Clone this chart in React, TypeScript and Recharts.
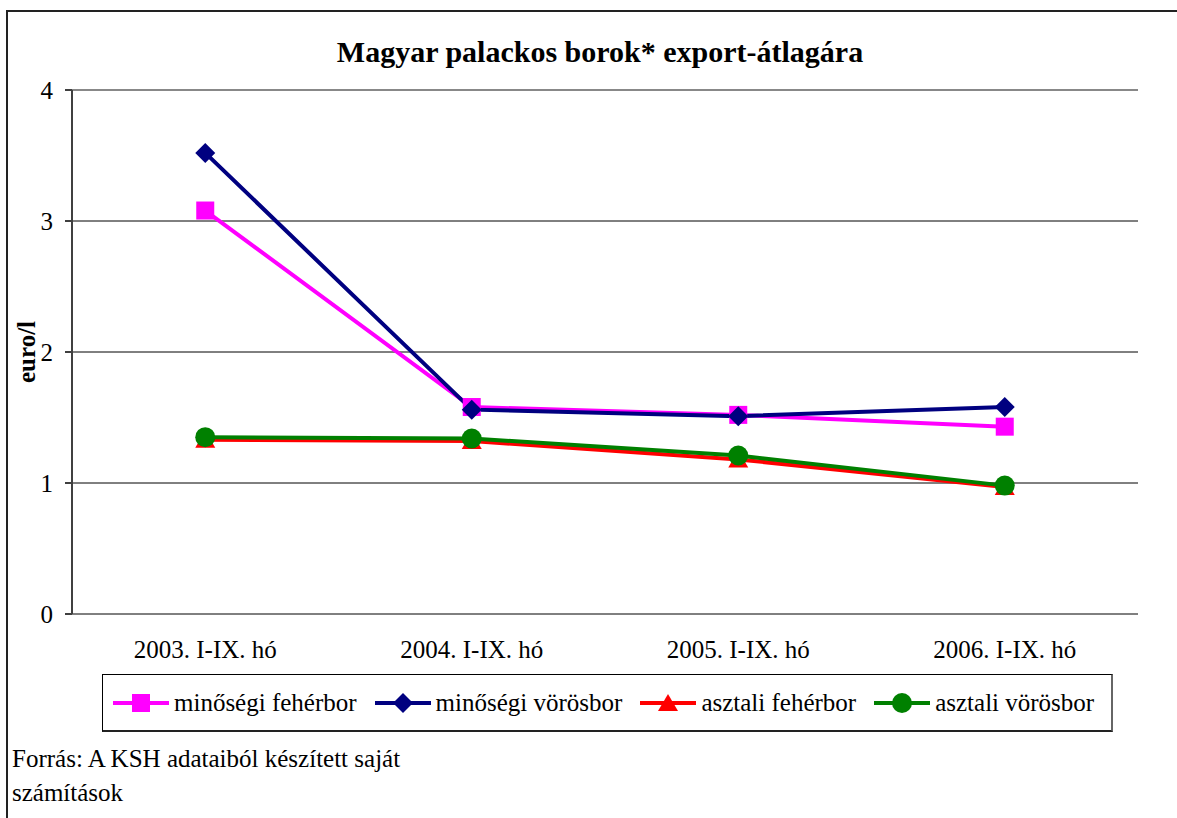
import React from "react";
import { LineChart, Line, XAxis, YAxis, CartesianGrid, ReferenceLine } from "recharts";

const categories = ["2003. I-IX. hó", "2004. I-IX. hó", "2005. I-IX. hó", "2006. I-IX. hó"];
const minosegiFeher = [3.08, 1.58, 1.52, 1.43];
const minosegiVoros = [3.52, 1.56, 1.51, 1.58];
const asztaliFeher = [1.33, 1.32, 1.18, 0.97];
const asztaliVoros = [1.35, 1.34, 1.21, 0.98];
const yTicks = [0, 1, 2, 3, 4];

const data = categories.map((name, i) => ({
  name,
  mf: minosegiFeher[i],
  mv: minosegiVoros[i],
  af: asztaliFeher[i],
  av: asztaliVoros[i],
}));

const FONT = '"Liberation Serif", "Times New Roman", serif';

type Shape = "square" | "diamond" | "triangle" | "circle";

const marker = (shape: Shape, color: string, cx: number, cy: number, key?: React.Key) => {
  if (shape === "square") return <rect key={key} x={cx - 9} y={cy - 9} width={18} height={18} fill={color} />;
  if (shape === "diamond")
    return <polygon key={key} points={`${cx},${cy - 10} ${cx + 10},${cy} ${cx},${cy + 10} ${cx - 10},${cy}`} fill={color} />;
  if (shape === "triangle")
    return <polygon key={key} points={`${cx},${cy - 9} ${cx + 10},${cy + 8} ${cx - 10},${cy + 8}`} fill={color} />;
  return <circle key={key} cx={cx} cy={cy} r={10} fill={color} />;
};

const series = [
  { key: "mf", name: "minőségi fehérbor", color: "#FF00FF", shape: "square" as Shape },
  { key: "mv", name: "minőségi vörösbor", color: "#000080", shape: "diamond" as Shape },
  { key: "af", name: "asztali fehérbor", color: "#FF0000", shape: "triangle" as Shape },
  { key: "av", name: "asztali vörösbor", color: "#008000", shape: "circle" as Shape },
];

const LegendBox = () => (
  <div
    style={{
      position: "absolute",
      left: 102,
      top: 674,
      width: 1011,
      height: 58,
      boxSizing: "border-box",
      border: "1px solid #000",
      borderRight: "2px solid #666",
      borderBottom: "2px solid #222",
      display: "flex",
      alignItems: "center",
      paddingLeft: 10,
      gap: 18,
      fontFamily: FONT,
      fontSize: 25,
      background: "#fff",
      whiteSpace: "nowrap",
    }}
  >
    {series.map((s) => (
      <div key={s.key} style={{ display: "flex", alignItems: "center" }}>
        <svg width={56} height={24}>
          <line x1={0} y1={12} x2={56} y2={12} stroke={s.color} strokeWidth={4} strokeLinecap="round" />
          {marker(s.shape, s.color, 28, 12)}
        </svg>
        <span style={{ marginLeft: 5 }}>{s.name}</span>
      </div>
    ))}
  </div>
);

const App: React.FC = () => {
  return (
    <div style={{ position: "absolute", left: 0, top: 0, width: 1177, height: 818, overflow: "hidden", background: "#fff" }}>
      <div
        style={{
          position: "absolute",
          left: 6,
          top: 10,
          width: 1200,
          height: 840,
          border: "2px solid #222",
        }}
      />
      <div
        style={{
          position: "absolute",
          left: 0,
          top: 37,
          width: 1200,
          textAlign: "center",
          fontFamily: FONT,
          fontWeight: "bold",
          fontSize: 30,
          lineHeight: "30px",
        }}
      >
        Magyar palackos borok* export-átlagára
      </div>
      <div style={{ position: "absolute", left: 0, top: 0 }}>
        <LineChart width={1177} height={818} data={data} margin={{ top: 90, right: 39, left: 12, bottom: 164 }}>
          <CartesianGrid vertical={false} stroke="#000" strokeWidth={1} />
          <XAxis
            xAxisId="frame"
            type="number"
            domain={[0, 4]}
            ticks={[0, 1, 2, 3, 4]}
            height={0}
            stroke="#404040"
            strokeWidth={2}
            tickSize={7}
            tick={() => <g />}
            allowDataOverflow
          />
          <XAxis
            xAxisId="cat"
            dataKey="name"
            scale="band"
            height={40}
            axisLine={false}
            tickLine={false}
            tickMargin={20}
            tick={{ fill: "#000", fontFamily: FONT, fontSize: 25 }}
          />
          <YAxis
            domain={[0, 4]}
            ticks={yTicks}
            width={60}
            stroke="#404040"
            strokeWidth={2}
            tickSize={7}
            tickMargin={12}
            tick={{ fill: "#000", fontFamily: FONT, fontSize: 25 }}
            label={{
              value: "euro/l",
              angle: -90,
              position: "insideLeft",
              offset: 14,
              style: { textAnchor: "middle", fontFamily: FONT, fontSize: 25, fontWeight: "bold", fill: "#000" },
            }}
          />
          <ReferenceLine y={4} xAxisId="frame" stroke="#888" strokeWidth={2} />
          <ReferenceLine x={4} xAxisId="frame" stroke="#888" strokeWidth={2} />
          {series.map((s) => (
            <Line
              key={s.key}
              xAxisId="cat"
              dataKey={s.key}
              name={s.name}
              stroke={s.color}
              strokeWidth={4}
              isAnimationActive={false}
              dot={(p: any) => marker(s.shape, s.color, p.cx, p.cy, p.index)}
              activeDot={false}
            />
          ))}
        </LineChart>
      </div>
      <LegendBox />
      <div
        style={{
          position: "absolute",
          left: 12,
          top: 742,
          fontFamily: FONT,
          fontSize: 25,
          lineHeight: "34px",
        }}
      >
        Forrás: A KSH adataiból készített saját
        <br />
        számítások
      </div>
    </div>
  );
};

export default App;
